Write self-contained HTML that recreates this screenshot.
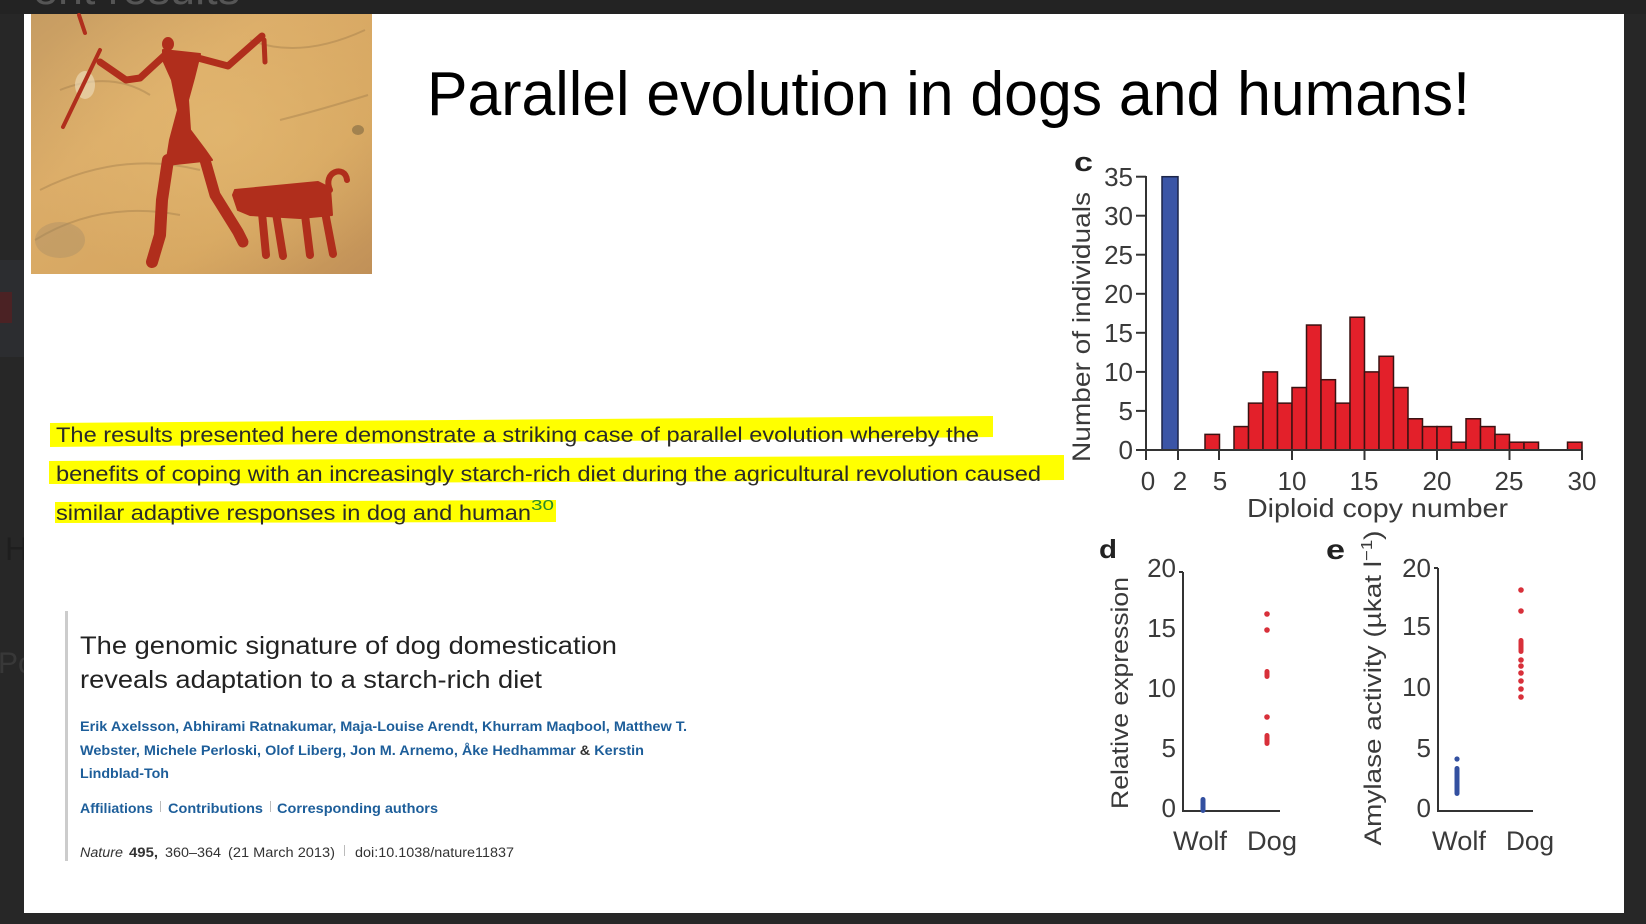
<!DOCTYPE html>
<html>
<head>
<meta charset="utf-8">
<style>
  html,body{margin:0;padding:0;background:#272727;}
  svg{display:block;}
  text{font-family:"Liberation Sans", Arial, sans-serif;}
</style>
</head>
<body>
<svg width="1646" height="924" viewBox="0 0 1646 924" xmlns="http://www.w3.org/2000/svg">
  <defs>
    <linearGradient id="rock" x1="0" y1="0" x2="1" y2="1">
      <stop offset="0" stop-color="#c69c62"/>
      <stop offset="0.35" stop-color="#dbac68"/>
      <stop offset="0.7" stop-color="#d6a660"/>
      <stop offset="1" stop-color="#c09058"/>
    </linearGradient>
    <radialGradient id="rockhl" cx="0.55" cy="0.45" r="0.6">
      <stop offset="0" stop-color="#e6bc74" stop-opacity="0.6"/>
      <stop offset="1" stop-color="#e6bc74" stop-opacity="0"/>
    </radialGradient>
  </defs>

  <!-- dark frame -->
  <rect x="0" y="0" width="1646" height="924" fill="#272727"/>
  <rect x="0" y="0" width="1646" height="14" fill="#232323"/>
  <text x="33" y="4" font-size="44" fill="#555" textLength="207" lengthAdjust="spacingAndGlyphs">ent results</text>
  <rect x="0" y="260" width="24" height="97" fill="#2c2d30"/>
  <rect x="0" y="292" width="12" height="31" fill="#4b2224"/>
  <text x="5" y="560" font-size="32" fill="#1e1e1e">H</text>
  <text x="-2" y="673" font-size="30" fill="#383838">Po</text>

  <!-- slide -->
  <rect x="24" y="14" width="1600" height="899" fill="#ffffff"/>

  <!-- painting -->
  <rect x="31" y="14" width="341" height="260" fill="url(#rock)"/>
  <rect x="31" y="14" width="341" height="260" fill="url(#rockhl)"/>
  <g opacity="0.3" stroke="#8a6a40" stroke-width="2" fill="none">
    <path d="M40 190 Q120 150 200 170"/>
    <path d="M35 240 Q100 200 180 215"/>
    <path d="M250 40 Q300 60 365 30"/>
    <path d="M280 120 Q320 110 368 95"/>
    <path d="M60 90 Q110 70 150 95"/>
  </g>
  <ellipse cx="60" cy="240" rx="25" ry="18" fill="#a08a68" opacity="0.35"/>
  <ellipse cx="85" cy="85" rx="10" ry="14" fill="#efe0c0" opacity="0.6"/>
  <ellipse cx="358" cy="130" rx="6" ry="5" fill="#6b5a3a" opacity="0.5"/>
  <g fill="#b02e1c" stroke="#b02e1c" stroke-linecap="round" stroke-linejoin="round">
    <line x1="100" y1="50" x2="63" y2="127" stroke-width="4"/>
    <line x1="79" y1="15" x2="85" y2="33" stroke-width="4"/>
    <ellipse cx="168" cy="44" rx="5" ry="6" stroke-width="2"/>
    <polygon points="163,50 200,54 194,78 188,100 190,130 205,150 212,160 166,165 170,140 178,110 172,80 163,60" stroke-width="2"/>
    <polyline points="165,55 140,78 126,80 100,62" fill="none" stroke-width="7"/>
    <polyline points="198,58 228,66 262,36" fill="none" stroke-width="7"/>
    <line x1="264" y1="40" x2="265" y2="62" stroke-width="5"/>
    <polyline points="168,160 162,200 160,235 152,262" fill="none" stroke-width="12"/>
    <polyline points="205,160 215,195 238,232 243,242" fill="none" stroke-width="11"/>
    <polygon points="235,190 318,182 330,188 332,215 300,218 250,215 238,210 233,195" stroke-width="2"/>
    <line x1="262" y1="213" x2="266" y2="255" stroke-width="8"/>
    <line x1="276" y1="213" x2="283" y2="256" stroke-width="8"/>
    <line x1="305" y1="215" x2="310" y2="255" stroke-width="8"/>
    <line x1="325" y1="212" x2="333" y2="254" stroke-width="8"/>
    <path d="M330 190 C322 172 345 164 347 180" fill="none" stroke-width="6"/>
  </g>

  <!-- title -->
  <text x="427" y="115" font-size="62" fill="#000" textLength="1043" lengthAdjust="spacingAndGlyphs">Parallel evolution in dogs and humans!</text>

  <!-- highlight -->
  <polygon points="50,423 993,416 993,437 50,447" fill="#ffff00"/>
  <polygon points="49,461 1064,455 1064,480 49,484" fill="#ffff00"/>
  <polygon points="55,502 556,500 556,522 55,523" fill="#ffff00"/>
  <g fill="#2a2a2a" font-size="21.5">
    <text x="56" y="442" textLength="923" lengthAdjust="spacingAndGlyphs">The results presented here demonstrate a striking case of parallel evolution whereby the</text>
    <text x="56" y="481" textLength="985" lengthAdjust="spacingAndGlyphs">benefits of coping with an increasingly starch-rich diet during the agricultural revolution caused</text>
    <text x="56" y="520" textLength="475" lengthAdjust="spacingAndGlyphs">similar adaptive responses in dog and human</text>
  </g>
  <text x="531" y="510" font-size="15" fill="#2a8a2a" textLength="23" lengthAdjust="spacingAndGlyphs">30</text>

  <!-- citation block -->
  <rect x="65" y="611" width="3" height="250" fill="#cccccc"/>
  <text x="80" y="654" font-size="25" fill="#222" textLength="537" lengthAdjust="spacingAndGlyphs">The genomic signature of dog domestication</text>
  <text x="80" y="688" font-size="25" fill="#222" textLength="462" lengthAdjust="spacingAndGlyphs">reveals adaptation to a starch-rich diet</text>
  <g font-size="14" font-weight="bold" fill="#1d5e9a">
    <text x="80" y="731" textLength="607" lengthAdjust="spacingAndGlyphs">Erik Axelsson, Abhirami Ratnakumar, Maja-Louise Arendt, Khurram Maqbool, Matthew T.</text>
    <text x="80" y="755" textLength="564" lengthAdjust="spacingAndGlyphs">Webster, Michele Perloski, Olof Liberg, Jon M. Arnemo, Åke Hedhammar <tspan fill="#333">&amp;</tspan> Kerstin</text>
    <text x="80" y="778" textLength="89" lengthAdjust="spacingAndGlyphs">Lindblad-Toh</text>
    <text x="80" y="813" textLength="73" lengthAdjust="spacingAndGlyphs">Affiliations</text>
    <text x="168" y="813" textLength="95" lengthAdjust="spacingAndGlyphs">Contributions</text>
    <text x="277" y="813" textLength="161" lengthAdjust="spacingAndGlyphs">Corresponding authors</text>
  </g>
  <rect x="160" y="801" width="1" height="11" fill="#bbb"/>
  <rect x="270" y="801" width="1" height="11" fill="#bbb"/>
  <g font-size="13.5" fill="#333">
    <text x="80" y="857" font-style="italic" textLength="43" lengthAdjust="spacingAndGlyphs">Nature</text>
    <text x="129" y="857" font-weight="bold" textLength="29" lengthAdjust="spacingAndGlyphs">495,</text>
    <text x="165" y="857" textLength="56" lengthAdjust="spacingAndGlyphs">360–364</text>
    <text x="228" y="857" textLength="107" lengthAdjust="spacingAndGlyphs">(21 March 2013)</text>
    <text x="355" y="857" textLength="159" lengthAdjust="spacingAndGlyphs">doi:10.1038/nature11837</text>
  </g>
  <rect x="344" y="845" width="1" height="11" fill="#bbb"/>

  <!-- ===== Chart c ===== -->
  <text x="1074" y="171" font-size="27" font-weight="bold" fill="#222" textLength="19" lengthAdjust="spacingAndGlyphs">c</text>
  <text transform="translate(1090,327) rotate(-90)" text-anchor="middle" font-size="25" fill="#3a3a3a" textLength="270" lengthAdjust="spacingAndGlyphs">Number of individuals</text>
  <!-- bars -->
  <rect x="1162" y="176.7" width="16" height="273.3" fill="#3b55a6" stroke="#1c2548" stroke-width="1.5"/>
  <g fill="#e3202a" stroke="#3a1212" stroke-width="1.5">
    <rect x="1205" y="434.38" width="14.5" height="15.62"/>
    <rect x="1234" y="426.57" width="14.5" height="23.43"/>
    <rect x="1248.5" y="403.14" width="14.5" height="46.86"/>
    <rect x="1263" y="371.9" width="14.5" height="78.1"/>
    <rect x="1277.5" y="403.14" width="14.5" height="46.86"/>
    <rect x="1292" y="387.52" width="14.5" height="62.48"/>
    <rect x="1306.5" y="325.04" width="14.5" height="124.96"/>
    <rect x="1321" y="379.71" width="14.5" height="70.29"/>
    <rect x="1335.5" y="403.14" width="14.5" height="46.86"/>
    <rect x="1350" y="317.23" width="14.5" height="132.77"/>
    <rect x="1364.5" y="371.9" width="14.5" height="78.1"/>
    <rect x="1379" y="356.28" width="14.5" height="93.72"/>
    <rect x="1393.5" y="387.52" width="14.5" height="62.48"/>
    <rect x="1408" y="418.76" width="14.5" height="31.24"/>
    <rect x="1422.5" y="426.57" width="14.5" height="23.43"/>
    <rect x="1437" y="426.57" width="14.5" height="23.43"/>
    <rect x="1451.5" y="442.19" width="14.5" height="7.81"/>
    <rect x="1466" y="418.76" width="14.5" height="31.24"/>
    <rect x="1480.5" y="426.57" width="14.5" height="23.43"/>
    <rect x="1495" y="434.38" width="14.5" height="15.62"/>
    <rect x="1509.5" y="442.19" width="14.5" height="7.81"/>
    <rect x="1524" y="442.19" width="14.5" height="7.81"/>
    <rect x="1567.5" y="442.19" width="14.5" height="7.81"/>
  </g>
  <!-- axes -->
  <g stroke="#333" stroke-width="2" fill="none">
    <line x1="1146" y1="176" x2="1146" y2="451"/>
    <line x1="1145" y1="450" x2="1582" y2="450"/>
    <line x1="1136" y1="176.7" x2="1146" y2="176.7"/>
    <line x1="1136" y1="215.7" x2="1146" y2="215.7"/>
    <line x1="1136" y1="254.7" x2="1146" y2="254.7"/>
    <line x1="1136" y1="293.8" x2="1146" y2="293.8"/>
    <line x1="1136" y1="332.8" x2="1146" y2="332.8"/>
    <line x1="1136" y1="371.9" x2="1146" y2="371.9"/>
    <line x1="1136" y1="410.9" x2="1146" y2="410.9"/>
    <line x1="1136" y1="450" x2="1146" y2="450"/>
    <line x1="1146" y1="450" x2="1146" y2="460"/>
    <line x1="1178" y1="450" x2="1178" y2="460"/>
    <line x1="1219" y1="450" x2="1219" y2="460"/>
    <line x1="1292" y1="450" x2="1292" y2="460"/>
    <line x1="1364.5" y1="450" x2="1364.5" y2="460"/>
    <line x1="1437" y1="450" x2="1437" y2="460"/>
    <line x1="1509.5" y1="450" x2="1509.5" y2="460"/>
    <line x1="1582" y1="450" x2="1582" y2="460"/>
  </g>
  <g font-size="26" fill="#3a3a3a" text-anchor="end">
    <text x="1133" y="186">35</text>
    <text x="1133" y="225">30</text>
    <text x="1133" y="264">25</text>
    <text x="1133" y="303">20</text>
    <text x="1133" y="342">15</text>
    <text x="1133" y="381">10</text>
    <text x="1133" y="420">5</text>
    <text x="1133" y="459">0</text>
  </g>
  <g font-size="26" fill="#3a3a3a" text-anchor="middle">
    <text x="1148" y="490">0</text>
    <text x="1180" y="490">2</text>
    <text x="1220" y="490">5</text>
    <text x="1292" y="490">10</text>
    <text x="1364" y="490">15</text>
    <text x="1437" y="490">20</text>
    <text x="1509" y="490">25</text>
    <text x="1582" y="490">30</text>
  </g>
  <text x="1247" y="517" font-size="26" fill="#3a3a3a" textLength="261" lengthAdjust="spacingAndGlyphs">Diploid copy number</text>

  <!-- ===== Chart d ===== -->
  <text x="1099" y="558" font-size="26" font-weight="bold" fill="#222" textLength="18" lengthAdjust="spacingAndGlyphs">d</text>
  <text transform="translate(1128,693) rotate(-90)" text-anchor="middle" font-size="24" fill="#3a3a3a" textLength="232" lengthAdjust="spacingAndGlyphs">Relative expression</text>
  <g stroke="#333" stroke-width="2" fill="none">
    <line x1="1183" y1="572" x2="1183" y2="812"/>
    <line x1="1182" y1="811" x2="1280" y2="811"/>
    <line x1="1179" y1="572" x2="1183" y2="572"/>
  </g>
  <g font-size="26" fill="#3a3a3a" text-anchor="end">
    <text x="1176" y="577">20</text>
    <text x="1176" y="637">15</text>
    <text x="1176" y="697">10</text>
    <text x="1176" y="757">5</text>
    <text x="1176" y="817">0</text>
  </g>
  <g fill="#3350a0">
    <rect x="1200.5" y="797" width="5" height="16" rx="2.5"/>
  </g>
  <g fill="#d8303a">
    <circle cx="1267" cy="614" r="2.8"/>
    <circle cx="1267" cy="630" r="2.8"/>
    <rect x="1264.5" y="669" width="5" height="10" rx="2.5"/>
    <circle cx="1267" cy="717" r="2.8"/>
    <rect x="1264.5" y="733" width="5" height="13" rx="2.5"/>
  </g>
  <g font-size="27" fill="#3a3a3a" text-anchor="middle">
    <text x="1200" y="850" textLength="54" lengthAdjust="spacingAndGlyphs">Wolf</text>
    <text x="1272" y="850" textLength="50" lengthAdjust="spacingAndGlyphs">Dog</text>
  </g>

  <!-- ===== Chart e ===== -->
  <text x="1326" y="559" font-size="28" font-weight="bold" fill="#222" textLength="19" lengthAdjust="spacingAndGlyphs">e</text>
  <text transform="translate(1381,688) rotate(-90)" text-anchor="middle" font-size="24" fill="#3a3a3a" textLength="315" lengthAdjust="spacingAndGlyphs">Amylase activity (µkat l<tspan font-size="16" dy="-9">−1</tspan><tspan dy="9">)</tspan></text>
  <g stroke="#333" stroke-width="2" fill="none">
    <line x1="1438" y1="568" x2="1438" y2="812"/>
    <line x1="1437" y1="811" x2="1533" y2="811"/>
    <line x1="1434" y1="568" x2="1438" y2="568"/>
  </g>
  <g font-size="26" fill="#3a3a3a" text-anchor="end">
    <text x="1431" y="577">20</text>
    <text x="1431" y="635">15</text>
    <text x="1431" y="696">10</text>
    <text x="1431" y="757">5</text>
    <text x="1431" y="817">0</text>
  </g>
  <g fill="#3350a0">
    <circle cx="1457" cy="759" r="2.6"/>
    <rect x="1454.5" y="766" width="5" height="30" rx="2.5"/>
  </g>
  <g fill="#d8303a">
    <circle cx="1521" cy="590" r="2.8"/>
    <circle cx="1521" cy="611" r="2.8"/>
    <rect x="1518.5" y="638" width="5" height="16" rx="2.5"/>
    <circle cx="1521" cy="660" r="2.8"/>
    <circle cx="1521" cy="666" r="2.8"/>
    <circle cx="1521" cy="673" r="2.8"/>
    <circle cx="1521" cy="681" r="2.8"/>
    <circle cx="1521" cy="689" r="2.8"/>
    <circle cx="1521" cy="697" r="2.8"/>
  </g>
  <g font-size="27" fill="#3a3a3a" text-anchor="middle">
    <text x="1459" y="850" textLength="54" lengthAdjust="spacingAndGlyphs">Wolf</text>
    <text x="1530" y="850" textLength="48" lengthAdjust="spacingAndGlyphs">Dog</text>
  </g>
</svg>
</body>
</html>
